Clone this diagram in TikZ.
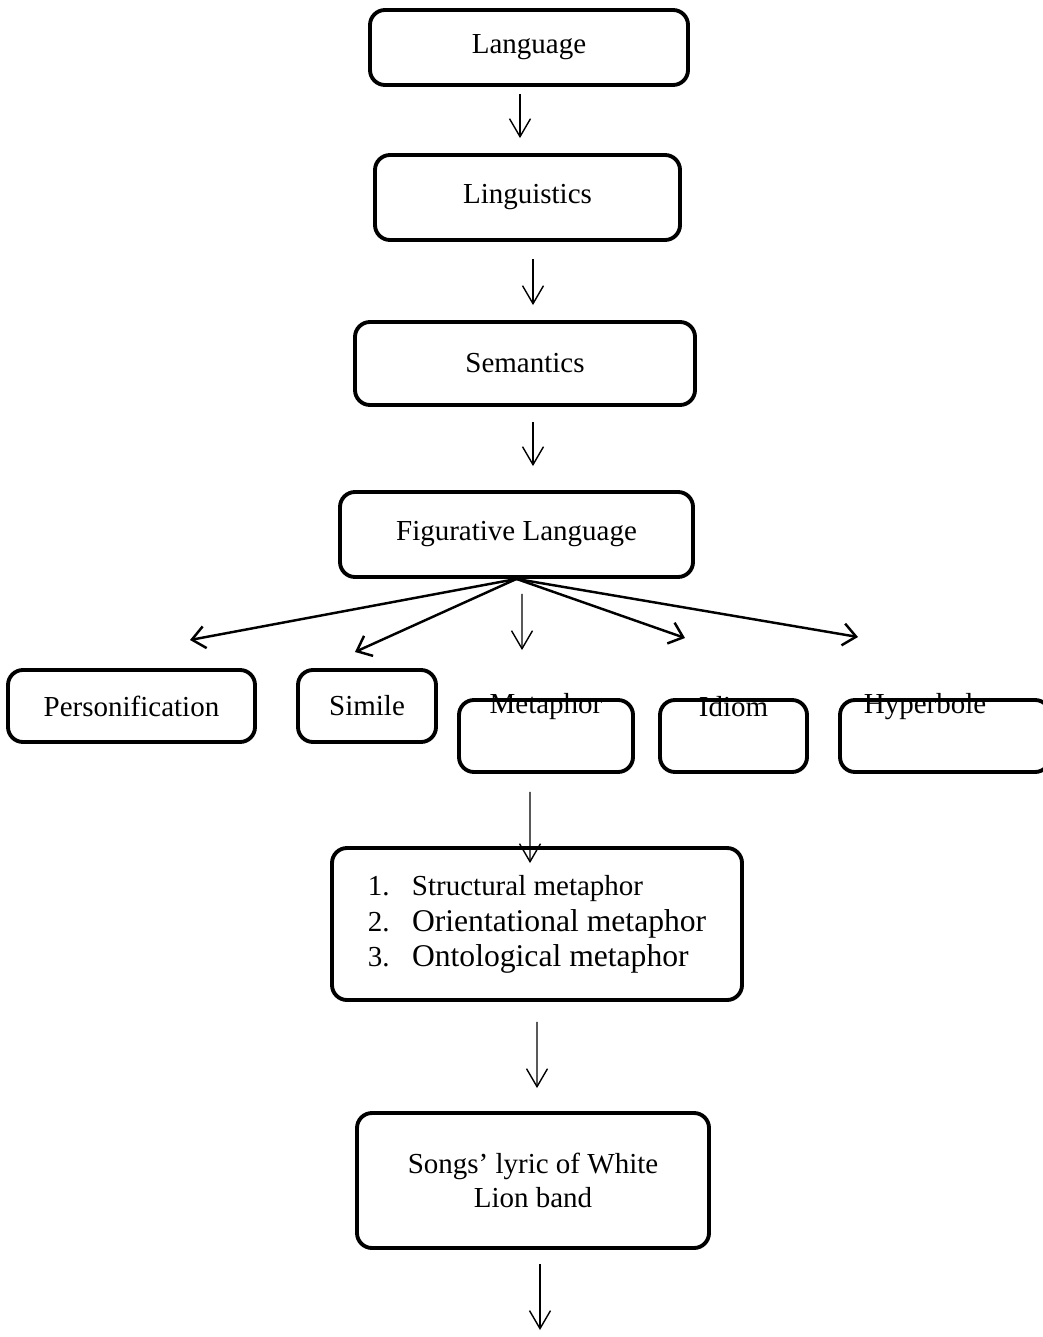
\documentclass[tikz,border=0pt]{standalone}
\usepackage{fontspec}
\setmainfont{Liberation Serif}
\usepackage{tikz}
\usetikzlibrary{arrows.meta}

\begin{document}
\begin{tikzpicture}[
  font=\fontsize{16.5}{19.5}\selectfont,
  box/.style={draw, line width=2.2pt, rounded corners=0.3cm, align=center, inner sep=2pt},
  arr/.style={-{Straight Barb[length=0.36cm, width=0.42cm]}, line width=0.8pt},
  fanarr/.style={-{Straight Barb[length=0.26cm, width=0.44cm]}, line width=1.4pt},
  toplab/.style={anchor=center, yshift=-0.17cm},
]
  \useasboundingbox (0,0) rectangle (20.84,-26.74);
  % main column
  \node[box, minimum width=6.36cm, minimum height=1.5cm] (lang) at (10.58,-0.95) {Language};
  \node[box, minimum width=6.1cm, minimum height=1.7cm] (ling) at (10.55,-3.95) {Linguistics};
  \node[box, minimum width=6.8cm, minimum height=1.66cm] (sem) at (10.5,-7.27) {Semantics};
  \node[box, minimum width=7.06cm, minimum height=1.7cm] (fig) at (10.33,-10.69) {Figurative Language};
  % kinds of figurative language
  \node[box, minimum width=4.94cm, minimum height=1.44cm] (pers) at (2.63,-14.12) {Personification};
  \node[box, minimum width=2.76cm, minimum height=1.44cm] (simile) at (7.34,-14.12) {Simile};
  \node[box, minimum width=3.48cm, minimum height=1.44cm, label={[toplab]north:Metaphor}] (meta) at (10.92,-14.72) {};
  \node[box, minimum width=2.94cm, minimum height=1.44cm, label={[toplab]north:Idiom}] (idiom) at (14.67,-14.72) {};
  \node[box, minimum width=4.2cm, minimum height=1.44cm, label={[toplab, xshift=-0.4cm]north:Hyperbole}] (hyper) at (18.9,-14.72) {};
  % metaphor types + data
  \node[box, minimum width=8.2cm, minimum height=3.04cm] (types) at (10.74,-18.48) {\fontsize{18}{20}\selectfont
    \begin{tabular}{@{}l@{\hspace{0.45cm}}l@{}}
      \fontsize{16.5}{20}\selectfont 1. & \fontsize{16.5}{20}\selectfont Structural metaphor\\
      \fontsize{16.5}{20}\selectfont 2. & Orientational metaphor\\
      \fontsize{16.5}{20}\selectfont 3. & Ontological metaphor
    \end{tabular}};
  \node[box, minimum width=7.04cm, minimum height=2.7cm] (lyric) at (10.66,-23.61) {Songs' lyric of White\\Lion band};
  \coordinate (tpers) at (3.8,-12.8);
  \coordinate (tsim) at (7.1,-13.04);
  \coordinate (tidiom) at (13.7,-12.76);
  \coordinate (thyper) at (17.16,-12.74);
  \coordinate (tend) at (10.8,-26.6);
  % arrows
  \draw[arr] ([xshift=-0.18cm, yshift=-0.14cm]lang.south) -- ([xshift=-0.15cm, yshift=0.3cm]ling.north);
  \draw[arr] ([xshift=0.11cm, yshift=-0.34cm]ling.south) -- ([xshift=0.16cm, yshift=0.3cm]sem.north);
  \draw[arr] ([xshift=0.16cm, yshift=-0.3cm]sem.south) -- ([xshift=0.33cm, yshift=0.48cm]fig.north);
  \draw[fanarr] (fig.south) -- (tpers);
  \draw[fanarr] (fig.south) -- (tsim);
  \draw[arr] ([xshift=0.11cm, yshift=-0.3cm]fig.south) -- ([xshift=-0.48cm, yshift=0.96cm]meta.north);
  \draw[fanarr] (fig.south) -- (tidiom);
  \draw[fanarr] (fig.south) -- (thyper);
  \draw[arr] ([xshift=-0.32cm, yshift=-0.36cm]meta.south) -- ([xshift=-0.14cm, yshift=-0.34cm]types.north);
  \draw[arr] ([yshift=-0.4cm]types.south) -- ([xshift=0.08cm, yshift=0.46cm]lyric.north);
  \draw[arr] ([xshift=0.14cm, yshift=-0.28cm]lyric.south) -- (tend);
\end{tikzpicture}
\end{document}
